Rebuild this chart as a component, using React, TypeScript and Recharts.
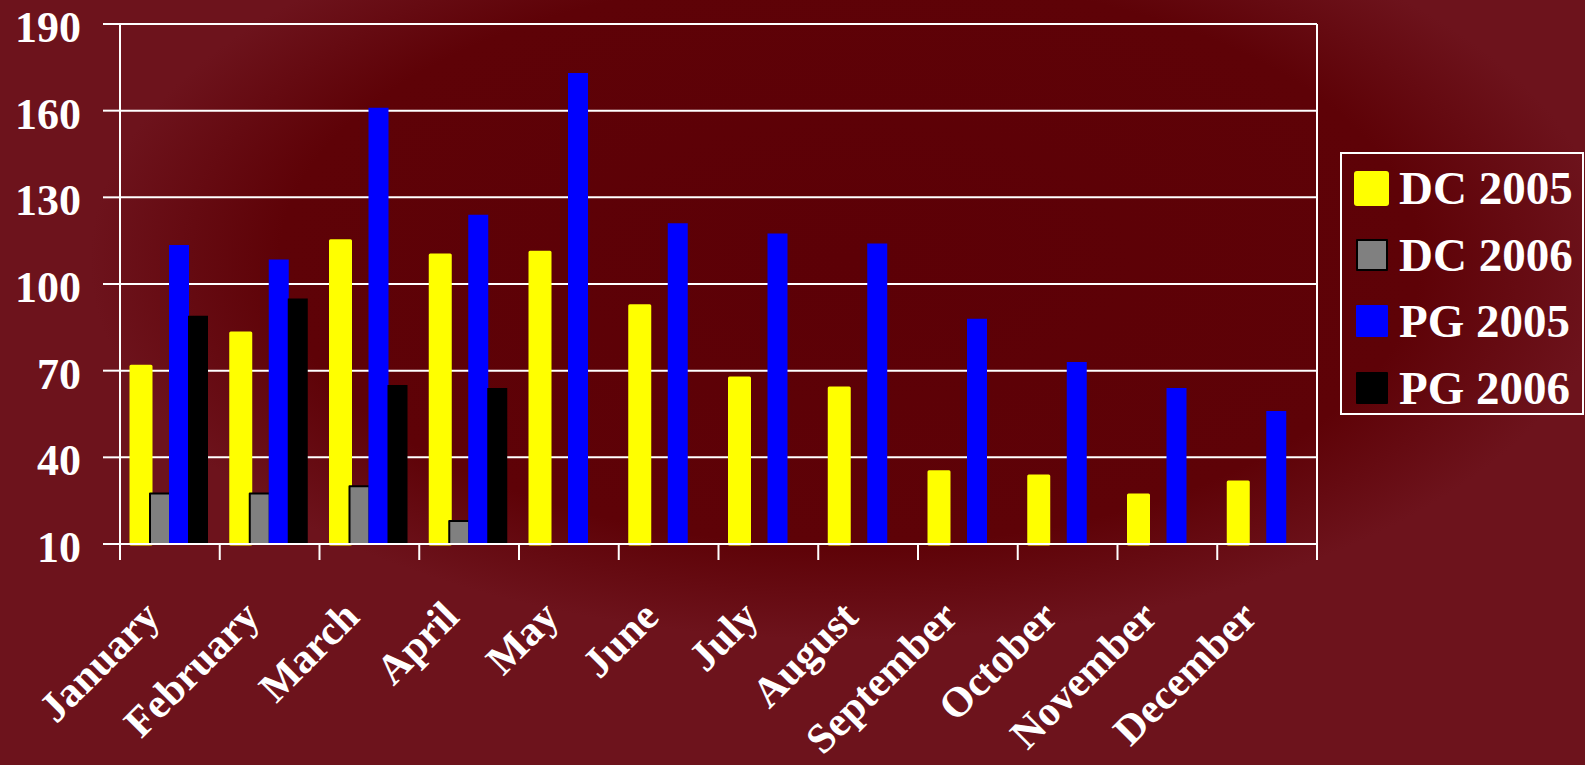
import React from "react";
import { BarChart, Bar, XAxis, YAxis, CartesianGrid } from "recharts";

const months = [
  "January", "February", "March", "April", "May", "June",
  "July", "August", "September", "October", "November", "December",
];
const dc2005 = [71.5, 83, 115, 110, 111, 92.5, 67.5, 64, 35, 33.5, 27, 31.5];
const dc2006 = [27.5, 27.5, 30, 18, null, null, null, null, null, null, null, null];
const pg2005 = [113.5, 108.5, 161, 124, 173, 121, 117.5, 114, 88, 73, 64, 56];
const pg2006 = [89, 95, 65, 64, null, null, null, null, null, null, null, null];
const yTicks = [10, 40, 70, 100, 130, 160, 190];

const series = [
  { key: "dc2005", name: "DC 2005", color: "#ffff00", stroke: "#ffff00" },
  { key: "dc2006", name: "DC 2006", color: "#808080", stroke: "#000000" },
  { key: "pg2005", name: "PG 2005", color: "#0000ff", stroke: "none" },
  { key: "pg2006", name: "PG 2006", color: "#000000", stroke: "none" },
];

const data = months.map((m, i) => ({
  month: m,
  dc2005: dc2005[i],
  dc2006: dc2006[i],
  pg2005: pg2005[i],
  pg2006: pg2006[i],
}));

const FONT = "'Liberation Serif', 'DejaVu Serif', serif";

function MonthTick(props: any) {
  const { x, y, payload, index, visibleTicksCount } = props;
  const half = payload && payload.offset ? payload.offset : 49.9;
  const ax = x - 8;
  const ay = y + 75;
  const isLast = index === (visibleTicksCount ?? months.length) - 1;
  return (
    <g>
      <line x1={x - half} x2={x - half} y1={y} y2={y + 16} stroke="#ffffff" strokeWidth={2} />
      {isLast && (
        <line x1={x + half} x2={x + half} y1={y} y2={y + 16} stroke="#ffffff" strokeWidth={2} />
      )}
      <text
        x={ax}
        y={ay}
        textAnchor="end"
        transform={`rotate(-45, ${ax}, ${ay})`}
        fill="#ffffff"
        fontSize={42}
        fontWeight="bold"
        fontFamily={FONT}
      >
        {payload.value}
      </text>
    </g>
  );
}

function ValueTick(props: any) {
  const { x, y, payload } = props;
  return (
    <text
      x={x - 20}
      y={y}
      dy={18}
      textAnchor="end"
      fill="#ffffff"
      fontSize={44}
      fontWeight="bold"
      fontFamily={FONT}
    >
      {payload.value}
    </text>
  );
}

export default function App() {
  return (
    <div
      style={{
        position: "absolute",
        left: 0,
        top: 0,
        width: 1585,
        height: 765,
        overflow: "hidden",
        background:
          "radial-gradient(ellipse 760px 380px at 850px 260px, #5c0006 0%, #5e0207 75%, #6d131c 100%)",
        backgroundColor: "#6d131c",
      }}
    >
      <BarChart
        width={1585}
        height={765}
        data={data}
        margin={{ top: 24, right: 268, bottom: 0, left: 0 }}
        barSize={20}
        barGap={-1}
      >
        <CartesianGrid
          stroke="#ffffff"
          strokeWidth={2}
          verticalCoordinatesGenerator={({ offset }: any) => [offset.left + offset.width]}
        />
        <XAxis
          dataKey="month"
          interval={0}
          height={221}
          tickSize={0}
          tickMargin={0}
          axisLine={{ stroke: "#ffffff", strokeWidth: 2 }}
          tickLine={false}
          tick={<MonthTick />}
        />
        <YAxis
          domain={[10, 190]}
          ticks={yTicks}
          interval={0}
          width={120}
          tickSize={17}
          tickMargin={2}
          axisLine={{ stroke: "#ffffff", strokeWidth: 2 }}
          tickLine={{ stroke: "#ffffff", strokeWidth: 2 }}
          tick={<ValueTick />}
        />
        {series.map((s) => (
          <Bar
            key={s.key}
            dataKey={s.key}
            name={s.name}
            fill={s.color}
            stroke={s.stroke}
            strokeWidth={s.key === "dc2005" ? 3 : 2}
            strokeLinejoin="round"
            isAnimationActive={false}
          />
        ))}
      </BarChart>
      <div
        style={{
          position: "absolute",
          left: 1340,
          top: 152,
          width: 244,
          height: 263,
          border: "2px solid #ffffff",
          boxSizing: "border-box",
        }}
      >
        {series.map((s, i) => (
          <div
            key={s.key}
            style={{
              position: "absolute",
              left: 12,
              top: 16 + i * 66.5,
              display: "flex",
              alignItems: "center",
              height: 36,
            }}
          >
            <div
              style={{
                width: s.key === "dc2005" ? 35 : 32,
                height: s.key === "dc2005" ? 35 : 32,
                marginLeft: s.key === "dc2005" ? 0 : 2,
                marginRight: s.key === "dc2005" ? 10 : 11,
                background: s.color,
                borderRadius: s.key === "dc2005" ? 3 : 1,
                border: s.key === "dc2006" ? "2px solid #000" : "none",
                boxSizing: "border-box",
              }}
            />
            <span
              style={{
                color: "#ffffff",
                fontFamily: FONT,
                fontWeight: "bold",
                fontSize: 47,
                lineHeight: "36px",
                whiteSpace: "nowrap",
              }}
            >
              {s.name}
            </span>
          </div>
        ))}
      </div>
    </div>
  );
}
